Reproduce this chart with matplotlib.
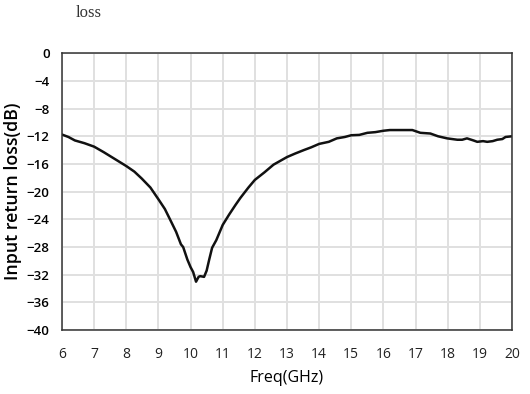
import numpy as np
import matplotlib
matplotlib.use('Agg')
import matplotlib.pyplot as plt

# measured S11 of the input port
freq = [6.0, 6.2, 6.4, 6.7, 7.0, 7.3, 7.65, 8.0, 8.25, 8.48, 8.75, 9.0, 9.2,
        9.36, 9.55, 9.7, 9.77, 9.9, 10.0, 10.08, 10.17, 10.25, 10.3, 10.42,
        10.5, 10.58, 10.67, 10.8, 11.0, 11.2, 11.4, 11.55, 11.8, 12.0, 12.3,
        12.58, 13.0, 13.25, 13.52, 13.75, 14.0, 14.3, 14.55, 14.8, 15.0,
        15.25, 15.5, 15.75, 16.0, 16.2, 16.5, 16.9, 17.15, 17.46, 17.7,
        17.98, 18.3, 18.45, 18.6, 18.8, 18.92, 19.1, 19.23, 19.4, 19.54,
        19.7, 19.8, 20.0]
s11 = [-11.75, -12.1, -12.6, -13.0, -13.5, -14.3, -15.3, -16.3, -17.1, -18.1,
       -19.4, -21.1, -22.5, -24.0, -25.8, -27.6, -28.0, -29.8, -30.9, -31.6,
       -33.0, -32.3, -32.2, -32.3, -31.4, -29.8, -28.1, -27.0, -24.8, -23.3,
       -21.9, -20.9, -19.4, -18.3, -17.2, -16.1, -15.0, -14.5, -14.0, -13.6,
       -13.1, -12.8, -12.3, -12.1, -11.85, -11.8, -11.5, -11.4, -11.2, -11.1,
       -11.1, -11.1, -11.5, -11.6, -12.0, -12.3, -12.5, -12.5, -12.3, -12.6,
       -12.8, -12.7, -12.8, -12.7, -12.5, -12.4, -12.1, -12.0]

xticks = list(range(6, 21))
yticks = list(range(-40, 1, 4))

fig = plt.figure(figsize=(5.3, 3.94), dpi=100)
ax = fig.add_axes([0.117, 0.162, 0.849, 0.703])

ax.plot(freq, s11, color='#111111', lw=1.8, solid_joinstyle='round')

ax.set_xlim(6, 20)
ax.set_ylim(-40, 0)
ax.set_xticks(xticks)
ax.set_yticks(yticks)
ax.grid(True, color='#e0e0e0', lw=1.4)
ax.set_axisbelow(True)
ax.tick_params(length=0)
ax.tick_params(axis='x', pad=12, labelsize=10, labelcolor='#222222')
ax.tick_params(axis='y', pad=9, labelsize=9.5)
for lab in ax.get_yticklabels():
    lab.set_fontfamily('Open Sans')
    lab.set_fontweight('semibold')
for lab in ax.get_xticklabels():
    lab.set_fontfamily('Open Sans')
for s in ax.spines.values():
    s.set_color('#333333')
    s.set_linewidth(1.1)

ax.set_xlabel('Freq(GHz)', fontsize=11.5, fontfamily='Open Sans', labelpad=6)
ax.set_ylabel('Input return loss(dB)', fontsize=12.8, fontfamily='Open Sans',
              fontweight='semibold', labelpad=3)

fig.text(0.142, 0.968, 'loss', fontsize=12, fontfamily='Liberation Serif',
         color='#333333', va='center')

fig.savefig('out.png', dpi=100)
